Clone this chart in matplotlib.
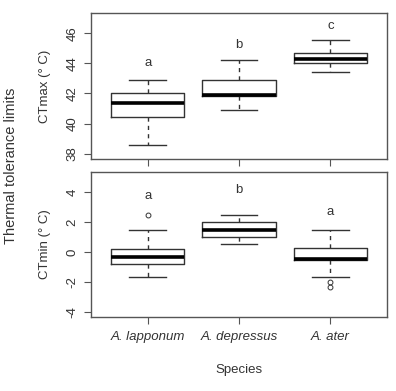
import matplotlib

matplotlib.use('Agg')
import matplotlib.pyplot as plt

plt.rcParams['font.family'] = ['Liberation Sans', 'DejaVu Sans']

species = ['A. lapponum', 'A. depressus', 'A. ater']

# CTmax box statistics
max_whislo = [38.6, 40.9, 43.45]
max_q1 = [40.45, 41.85, 44.05]
max_med = [41.4, 41.87, 44.3]
max_q3 = [42.0, 42.93, 44.7]
max_whishi = [42.9, 44.2, 45.53]
max_fliers = [[], [], []]
max_letters = ['a', 'b', 'c']
max_letter_y = [44.0, 45.2, 46.5]

# CTmin box statistics
min_whislo = [-1.7, 0.5, -1.7]
min_q1 = [-0.78, 1.0, -0.52]
min_med = [-0.31, 1.5, -0.5]
min_q3 = [0.22, 2.0, 0.27]
min_whishi = [1.5, 2.5, 1.5]
min_fliers = [[2.5], [], [-2.03, -2.33]]
min_letters = ['a', 'b', 'a']
min_letter_y = [3.75, 4.15, 2.7]

col = '#333333'
frame = '#555555'


def make_stats(lo, q1, med, q3, hi, fl):
    out = []
    for i in range(len(lo)):
        out.append({'whislo': lo[i], 'q1': q1[i], 'med': med[i],
                    'q3': q3[i], 'whishi': hi[i], 'fliers': fl[i]})
    return out


def panel(ax, stats, letters, letter_y, ylim, ticks):
    ax.bxp(stats, positions=[1, 2, 3], widths=0.8, showfliers=True,
           boxprops=dict(color=col, linewidth=1.0),
           medianprops=dict(color='black', linewidth=2.6, solid_capstyle='butt'),
           whiskerprops=dict(color=col, linewidth=1.0, linestyle=(0, (3, 3))),
           capprops=dict(color=col, linewidth=1.0),
           flierprops=dict(marker='o', markersize=3.5, markerfacecolor='none',
                           markeredgecolor=col, markeredgewidth=0.7))
    for i, (t, y) in enumerate(zip(letters, letter_y)):
        ax.text(i + 1, y, t, ha='center', va='center', fontsize=9.5, color=col)
    span = ylim[1] - ylim[0]
    ax.set_ylim(ylim[0] - 0.04 * span, ylim[1] + 0.04 * span)
    ax.set_xlim(0.38, 3.62)
    ax.set_yticks(ticks)
    ax.set_yticklabels([str(t) for t in ticks], rotation=90, va='center',
                       fontsize=9.5, color=col)
    ax.tick_params(direction='out', length=5, width=0.8, color=frame, pad=4)
    for s in ax.spines.values():
        s.set_color(frame)
        s.set_linewidth(1.0)


fig = plt.figure(figsize=(3.96, 3.91), dpi=100)
ax1 = fig.add_axes([0.2298, 0.5934, 0.7475, 0.3734])
ax2 = fig.add_axes([0.2298, 0.1893, 0.7475, 0.3708])

panel(ax1, make_stats(max_whislo, max_q1, max_med, max_q3, max_whishi, max_fliers),
      max_letters, max_letter_y, (38, 47), [38, 40, 42, 44, 46])
panel(ax2, make_stats(min_whislo, min_q1, min_med, min_q3, min_whishi, min_fliers),
      min_letters, min_letter_y, (-4, 5), [-4, -2, 0, 2, 4])

ax1.set_xticks([1, 2, 3])
ax1.set_xticklabels([])
ax2.set_xticks([1, 2, 3])
ax2.set_xticklabels(species, fontstyle='italic', fontsize=9.5, color=col)
ax2.tick_params(axis='x', pad=5)

ax1.set_ylabel('CTmax (° C)', fontsize=9.5, color=col, labelpad=11)
ax2.set_ylabel('CTmin (° C)', fontsize=9.5, color=col, labelpad=11)
ax2.set_xlabel('Species', fontsize=9.5, color=col, labelpad=15)

fig.text(0.028, 0.577, 'Thermal tolerance limits', rotation=90, ha='center',
         va='center', fontsize=10.5, color=col)

plt.savefig('out.png')
